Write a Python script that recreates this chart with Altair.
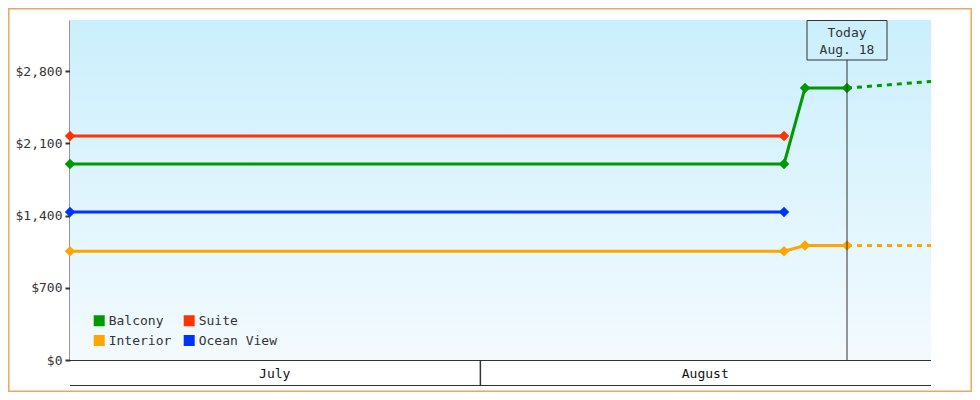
import altair as alt
import pandas as pd

FONT = "DejaVu Sans Mono"
INK = "#333333"

# ---- data ----
# legend is laid out column by column: (Balcony, Interior) then (Suite, Ocean View)
series_order = ["Balcony", "Interior", "Suite", "Ocean View"]
series_colors = ["#009900", "#FFA500", "#FF3300", "#0033FF"]

dates_long = ["2024-07-12T08:00:00Z", "2024-08-15T08:00:00Z",
              "2024-08-16T08:00:00Z", "2024-08-18T08:00:00Z"]
dates_short = ["2024-07-12T08:00:00Z", "2024-08-15T08:00:00Z"]
balcony = [1900, 1900, 2635, 2635]
interior = [1055, 1055, 1110, 1110]
suite = [2170, 2170]
ocean_view = [1435, 1435]

proj_dates = ["2024-08-18T08:00:00Z", "2024-08-22T08:00:00Z"]
balcony_proj = [2635, 2700]
interior_proj = [1110, 1110]

today_date = ["2024-08-18T08:00:00Z"]
today_lines = ["Today", "Aug. 18"]

month_names = ["July", "August"]
month_label_dates = ["2024-07-22T02:00:00Z", "2024-08-11T14:00:00Z"]
month_boundary = ["2024-07-31T21:00:00Z"]

y_ticks = [0, 700, 1400, 2100, 2800]
y_max = 3295

# ---- tables ----
rows = []
for name, ds, vs in [("Balcony", dates_long, balcony), ("Interior", dates_long, interior),
                     ("Suite", dates_short, suite), ("Ocean View", dates_short, ocean_view)]:
    for d, v in zip(ds, vs):
        rows.append({"series": name, "date": d, "price": v})
actual = pd.DataFrame(rows)

prow = []
for name, vs in [("Balcony", balcony_proj), ("Interior", interior_proj)]:
    for d, v in zip(proj_dates, vs):
        prow.append({"series": name, "date": d, "price": v})
proj = pd.DataFrame(prow)

today = pd.DataFrame({"date": today_date})
months = pd.DataFrame({"month": month_names, "date": month_label_dates})
bound = pd.DataFrame({"date": month_boundary})

W, H = 861, 340

xs = alt.Scale(nice=False)
x_enc = alt.X("date:T", scale=xs, axis=None)
y_enc = alt.Y("price:Q", scale=alt.Scale(domain=[0, y_max], nice=False),
              axis=alt.Axis(values=y_ticks, format="$,.0f", title=None, grid=False,
                            domainColor=INK, domainWidth=2, tickColor=INK, tickWidth=2,
                            tickSize=5, labelPadding=3, labelFont=FONT, labelFontSize=13,
                            labelColor=INK))
color_scale = alt.Scale(domain=series_order, range=series_colors)
legend = alt.Legend(title=None, orient="none", legendX=22.7, legendY=294,
                    columns=2, symbolType="square", symbolSize=121,
                    symbolStrokeWidth=0, symbolOpacity=1,
                    labelFont=FONT, labelFontSize=13, labelColor=INK,
                    labelOffset=3, columnPadding=11, rowPadding=6, padding=0)
color_enc = alt.Color("series:N", scale=color_scale, legend=legend)

bg = alt.Chart(pd.DataFrame({"a": [0]})).mark_rect(
    fill=alt.Gradient(gradient="linear", x1=0, x2=0, y1=0, y2=1,
                      stops=[alt.GradientStop(color="#CAEFFC", offset=0),
                             alt.GradientStop(color="#F3FAFE", offset=1)])
).encode(x=alt.value(0), x2=alt.value(W), y=alt.value(0), y2=alt.value(H))

frame = alt.Chart(pd.DataFrame({"a": [0]})).mark_rect(
    fill=None, fillOpacity=0, stroke="#E8A860", strokeWidth=1.5
).encode(x=alt.value(-61.2), x2=alt.value(W + 40.2), y=alt.value(-11.2), y2=alt.value(H + 31.2))

lines = alt.Chart(actual).mark_line(strokeWidth=3).encode(
    x=x_enc, y=y_enc, color=color_enc, detail="series:N")

points = alt.Chart(actual).mark_point(shape="diamond", filled=True, size=110, opacity=1).encode(
    x=x_enc, y=alt.Y("price:Q"), color=color_enc)

dashed = alt.Chart(proj).mark_line(strokeWidth=3, strokeDash=[5, 5]).encode(
    x=x_enc, y=alt.Y("price:Q"), color=color_enc, detail="series:N")

today_rule = alt.Chart(today).mark_rule(color=INK, strokeWidth=1).encode(
    x=x_enc, y=alt.value(40), y2=alt.value(H))

today_box = alt.Chart(today).mark_rect(fill=None, fillOpacity=0, stroke=INK, strokeWidth=1,
                                       xOffset=-40, x2Offset=40).encode(
    x=x_enc, x2="date:T", y=alt.value(0.5), y2=alt.value(40))

today_t1 = alt.Chart(today).mark_text(font=FONT, fontSize=13, color=INK, align="center",
                                      baseline="middle").encode(
    x=x_enc, y=alt.value(12.5), text=alt.value(today_lines[0]))
today_t2 = alt.Chart(today).mark_text(font=FONT, fontSize=13, color=INK, align="center",
                                      baseline="middle").encode(
    x=x_enc, y=alt.value(30), text=alt.value(today_lines[1]))

x_line = alt.Chart(pd.DataFrame({"a": [0]})).mark_rule(color=INK, strokeWidth=1).encode(
    x=alt.value(0), x2=alt.value(W), y=alt.value(H + 0.5))
bottom_line = alt.Chart(pd.DataFrame({"a": [0]})).mark_rule(color=INK, strokeWidth=1).encode(
    x=alt.value(0), x2=alt.value(W), y=alt.value(H + 25.5))
sep = alt.Chart(bound).mark_rule(color=INK, strokeWidth=1.5).encode(
    x=x_enc, y=alt.value(H), y2=alt.value(H + 25))
month_text = alt.Chart(months).mark_text(font=FONT, fontSize=13, color="#111111",
                                         align="center", baseline="middle").encode(
    x=x_enc, y=alt.value(H + 13.5), text="month:N")

chart = alt.layer(
    frame, bg, lines, dashed, points, today_rule, today_box, today_t1, today_t2,
    x_line, bottom_line, sep, month_text
).properties(
    width=W, height=H,
    autosize=alt.AutoSizeParams(type="none"),
    padding={"left": 62, "top": 12, "right": 41, "bottom": 32},
    background="white",
).configure_view(stroke=None)

chart.save("out.html", embed_options={"renderer": "svg", "actions": False})
